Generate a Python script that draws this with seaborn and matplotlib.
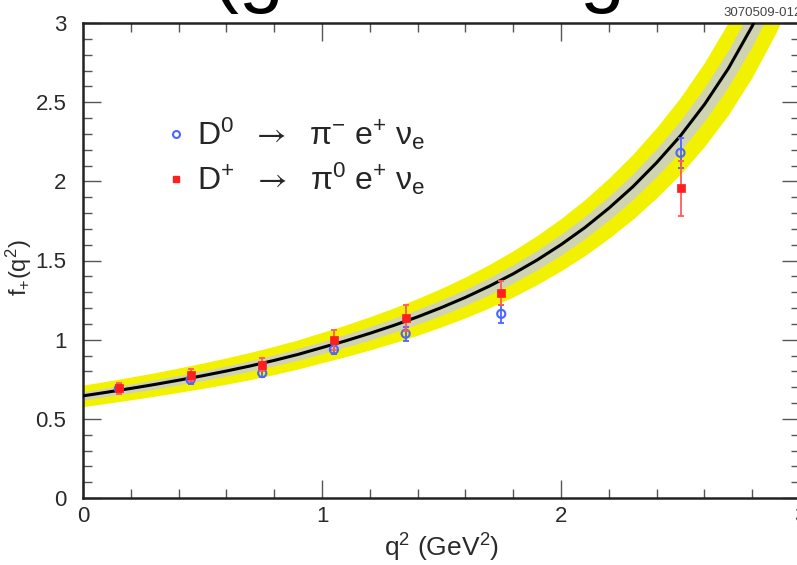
import matplotlib
matplotlib.use("Agg")
import matplotlib.pyplot as plt
from matplotlib.lines import Line2D
from matplotlib.ticker import MultipleLocator, FuncFormatter
import pandas as pd
import seaborn as sns

# ---------------- data ----------------
q2_points = [0.15, 0.45, 0.75, 1.05, 1.35, 1.75, 2.5]
d0_vals = [0.690, 0.747, 0.789, 0.937, 1.038, 1.163, 2.180]
d0_errs = [0.020, 0.025, 0.025, 0.030, 0.045, 0.055, 0.095]
dp_vals = [0.694, 0.776, 0.842, 1.000, 1.137, 1.295, 1.955]
dp_errs = [0.035, 0.036, 0.042, 0.063, 0.080, 0.075, 0.175]

curve_q2 = [0.0, 0.1, 0.2, 0.3, 0.4, 0.5, 0.6, 0.7, 0.8, 0.9, 1.0,
            1.1, 1.2, 1.3, 1.4, 1.5, 1.6, 1.7, 1.8, 1.9, 2.0,
            2.1, 2.2, 2.3, 2.4, 2.5, 2.6, 2.7, 2.8, 2.9, 3.0]
curve_f = [0.645, 0.668, 0.692, 0.717, 0.744, 0.772, 0.802, 0.834, 0.869, 0.907, 0.950,
           0.993, 1.040, 1.090, 1.144, 1.203, 1.267, 1.338, 1.416, 1.503, 1.600,
           1.708, 1.830, 1.965, 2.118, 2.288, 2.485, 2.712, 2.980, 3.296, 3.680]
yellow_half = [0.068, 0.070, 0.072, 0.074, 0.077, 0.080, 0.083, 0.086, 0.089, 0.092, 0.096,
               0.100, 0.105, 0.110, 0.116, 0.122, 0.129, 0.137, 0.146, 0.155, 0.165,
               0.177, 0.190, 0.205, 0.222, 0.242, 0.265, 0.292, 0.322, 0.356, 0.395]
grey_half = [0.026, 0.027, 0.028, 0.029, 0.030, 0.031, 0.032, 0.034, 0.035, 0.037, 0.038,
             0.040, 0.042, 0.044, 0.046, 0.049, 0.051, 0.054, 0.058, 0.062, 0.066,
             0.070, 0.075, 0.081, 0.088, 0.096, 0.105, 0.116, 0.128, 0.141, 0.157]

label_d0 = r"D$^{0}$  $\mathsf{\rightarrow}$  $\mathrm{\pi}^{-}$ e$^{+}$ $\mathrm{\nu}_{\mathrm{e}}$"
label_dp = r"D$^{+}$  $\mathsf{\rightarrow}$  $\mathrm{\pi}^{0}$ e$^{+}$ $\mathrm{\nu}_{\mathrm{e}}$"
xlabel = r"q$^{2}$ (GeV$^{2}$)"
ylabel = r"f$_{+}$(q$^{2}$)"
tag = "3070509-012"

# ---------------- style ----------------
sns.set_theme(style="ticks")
plt.rcParams["font.family"] = ["Liberation Sans", "DejaVu Sans"]
plt.rcParams["mathtext.fontset"] = "custom"
plt.rcParams["mathtext.rm"] = "Liberation Sans"
plt.rcParams["mathtext.it"] = "Liberation Sans:italic"
plt.rcParams["mathtext.bf"] = "Liberation Sans:bold"
plt.rcParams["mathtext.sf"] = "STIXGeneral"

fig = plt.figure(figsize=(7.97, 5.65), dpi=100)
ax = fig.add_axes([83 / 797, 67 / 565, 717 / 797, 475 / 565])
ax.set_facecolor("white")

df_curve = pd.DataFrame({"q2": curve_q2, "f": curve_f,
                         "yh": yellow_half, "gh": grey_half})
df_curve["ylo"] = df_curve["f"] - df_curve["yh"]
df_curve["yhi"] = df_curve["f"] + df_curve["yh"]
df_curve["glo"] = df_curve["f"] - df_curve["gh"]
df_curve["ghi"] = df_curve["f"] + df_curve["gh"]

ax.fill_between(df_curve["q2"], df_curve["ylo"], df_curve["yhi"],
                color="#f2f200", lw=0, zorder=1)
ax.fill_between(df_curve["q2"], df_curve["glo"], df_curve["ghi"],
                color="#cfd3b2", lw=0, zorder=2)
sns.lineplot(data=df_curve, x="q2", y="f", ax=ax, color="black",
             lw=2.2, zorder=3, legend=False)

df_pts = pd.DataFrame({"q2": q2_points, "d0": d0_vals, "d0e": d0_errs,
                       "dp": dp_vals, "dpe": dp_errs})

ax.errorbar(df_pts["q2"], df_pts["d0"], yerr=df_pts["d0e"], fmt="none",
            ecolor="#4a66ff", elinewidth=1.3, capsize=2.5, capthick=1.3, zorder=4)
sns.scatterplot(data=df_pts, x="q2", y="d0", ax=ax, marker="o", s=34,
                facecolor="none", edgecolor="#4a66ff", linewidth=1.5, zorder=5)
ax.errorbar(df_pts["q2"], df_pts["dp"], yerr=df_pts["dpe"], fmt="none",
            ecolor="#ff5a5a", elinewidth=1.3, capsize=2.5, capthick=1.3, zorder=6)
sns.scatterplot(data=df_pts, x="q2", y="dp", ax=ax, marker="s", s=40,
                color="#ff1f1f", edgecolor="#ff1f1f", linewidth=0.5, zorder=7)

ax.set_xlim(0, 3)
ax.set_ylim(0, 3)
ax.xaxis.set_major_locator(MultipleLocator(1))
ax.xaxis.set_minor_locator(MultipleLocator(0.2))
ax.yaxis.set_major_locator(MultipleLocator(0.5))
ax.yaxis.set_minor_locator(MultipleLocator(0.1))

def fmt(v, p):
    return "%g" % v

ax.xaxis.set_major_formatter(FuncFormatter(fmt))
ax.yaxis.set_major_formatter(FuncFormatter(fmt))

ax.tick_params(which="both", direction="in", top=True, right=True,
               color="#555555", width=1.0)
ax.tick_params(which="major", length=13, labelsize=16, labelcolor="#2a2a2a")
ax.tick_params(axis="x", which="major", pad=6)
ax.tick_params(axis="y", which="major", pad=12)
ax.tick_params(which="minor", length=6.5)
for s in ax.spines.values():
    s.set_linewidth(1.8)
    s.set_color("#222222")
    s.set_visible(True)

ax.set_xlabel(xlabel, fontsize=19, color="#2a2a2a")
ax.set_ylabel(ylabel, fontsize=17, color="#2a2a2a")
ax.xaxis.set_label_coords(0.50, -0.072)
ax.yaxis.set_label_coords(-0.068, 0.484)

handles = [Line2D([], [], ls="none", marker="o", markersize=5, markerfacecolor="none",
                  markeredgecolor="#4a66ff", markeredgewidth=1.5),
           Line2D([], [], ls="none", marker="s", markersize=5,
                  markerfacecolor="#ff1f1f", markeredgecolor="#ff1f1f")]
ax.legend(handles, [label_d0, label_dp], loc="upper left",
          bbox_to_anchor=(0.117, 0.805), frameon=False, fontsize=23,
          handlelength=0.6, handletextpad=0.33, labelspacing=0.28,
          borderaxespad=0, borderpad=0)

fig.text(723 / 797, 1 - 16 / 565, tag, fontsize=9.5, color="#444444",
         ha="left", va="baseline")
fig.text(212 / 797, 1.006, "(g", fontsize=58, color="black", ha="left", va="baseline")
fig.text(580 / 797, 1.006, "g", fontsize=58, color="black", ha="left", va="baseline")

fig.savefig("out.png", dpi=100)
